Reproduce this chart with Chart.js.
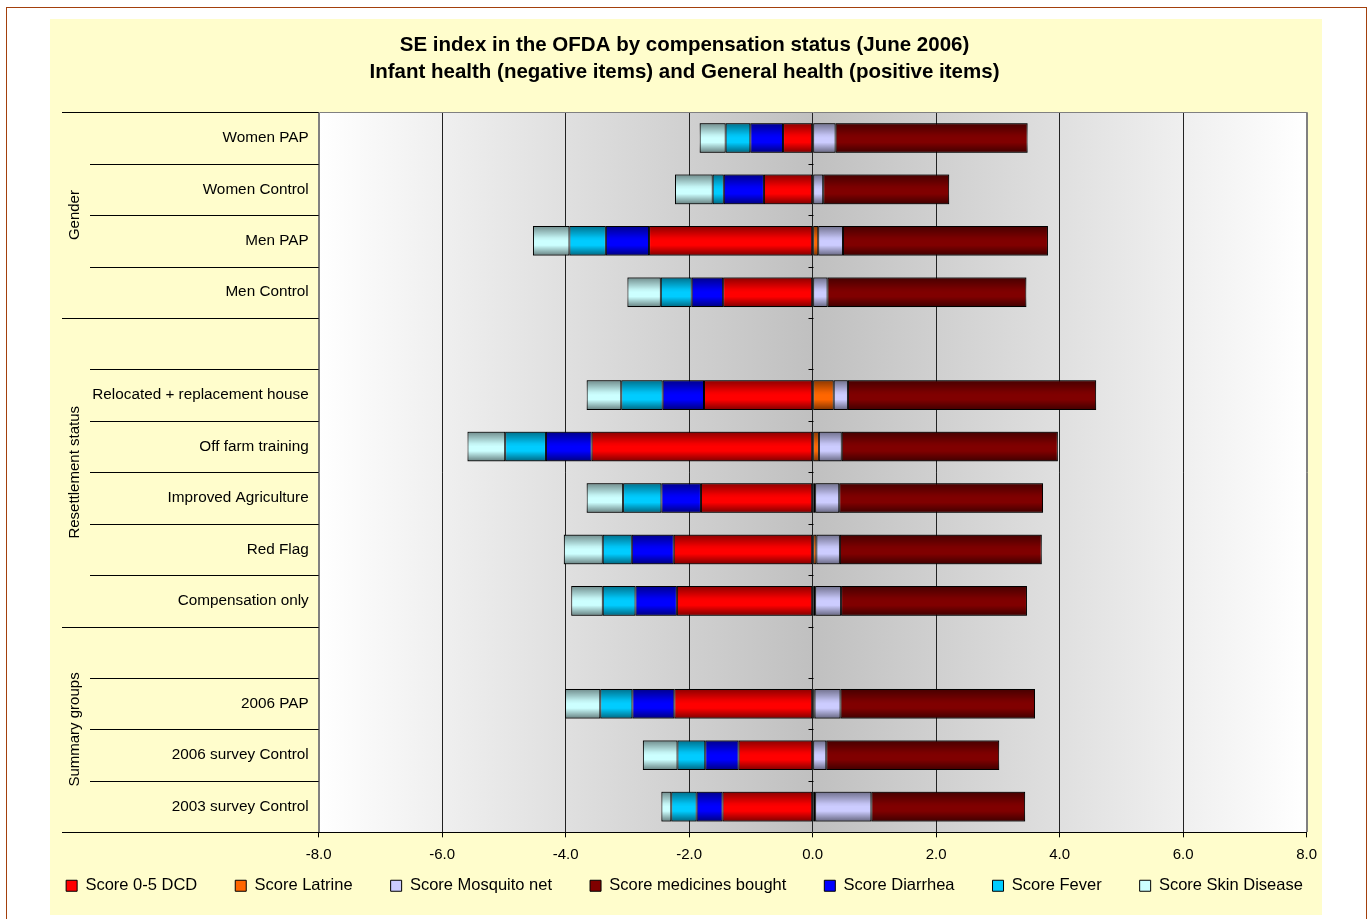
<!DOCTYPE html>
<html>
<head>
<meta charset="utf-8">
<title>SE index in the OFDA by compensation status</title>
<script src="https://cdn.jsdelivr.net/npm/chart.js@4.4.0/dist/chart.umd.min.js"></script>
<style>
  html, body { margin: 0; padding: 0; background: #fff; overflow: hidden; }
  #frame { position: absolute; left: 6px; top: 7px; width: 1361px; height: 940px;
           border: 1px solid #A3400C; box-sizing: border-box; }
  #panel { position: absolute; left: 50px; top: 19px; width: 1272px; height: 896px;
           background: #FFFDCC; }
  #wrap { position: absolute; left: 0; top: 0; width: 1369px; height: 919px; }
</style>
</head>
<body>
<div id="frame"></div>
<div id="panel"></div>
<div id="wrap"><canvas id="chart" width="1369" height="919"></canvas></div>
<script>
// categories, top to bottom ('' = empty spacer row)
const categories = [
  'Women PAP', 'Women Control', 'Men PAP', 'Men Control', '',
  'Relocated + replacement house', 'Off farm training', 'Improved Agriculture', 'Red Flag', 'Compensation only', '',
  '2006 PAP', '2006 survey Control', '2003 survey Control'
];
const groupNames = ['Gender', 'Resettlement status', 'Summary groups'];
const groupSizes = [4, 6, 4];

// series values
const scoreDCD       = [-0.48, -0.79, -2.65, -1.45, null, -1.76, -3.58, -1.81, -2.25, -2.20, null, -2.24, -1.20, -1.46];
const scoreLatrine   = [0, 0, 0.09, 0, null, 0.34, 0.10, 0.04, 0.06, 0.04, null, 0.03, 0, 0.04];
const scoreMosquito  = [0.37, 0.17, 0.40, 0.24, null, 0.23, 0.37, 0.39, 0.38, 0.42, null, 0.42, 0.22, 0.91];
const scoreMedicines = [3.11, 2.04, 3.32, 3.22, null, 4.02, 3.50, 3.30, 3.27, 3.01, null, 3.15, 2.80, 2.49];
const scoreDiarrhea  = [-0.53, -0.65, -0.70, -0.51, null, -0.67, -0.74, -0.64, -0.68, -0.67, null, -0.68, -0.54, -0.42];
const scoreFever     = [-0.40, -0.18, -0.59, -0.50, null, -0.67, -0.66, -0.62, -0.47, -0.53, null, -0.52, -0.45, -0.41];
const scoreSkin      = [-0.42, -0.61, -0.59, -0.54, null, -0.56, -0.61, -0.59, -0.63, -0.51, null, -0.57, -0.56, -0.16];

const xTicks = [-8, -6, -4, -2, 0, 2, 4, 6, 8];

const FONT = "'Liberation Sans', Arial, Helvetica, sans-serif";
Chart.defaults.font.family = FONT;
Chart.defaults.color = '#000';

// gray gradient behind the plot
const plotBackground = {
  id: 'plotBackground',
  beforeDraw(chart) {
    const {ctx, chartArea: a} = chart;
    const g = ctx.createLinearGradient(a.left, 0, a.right, 0);
    g.addColorStop(0, '#FFFFFF');
    g.addColorStop(0.5, '#C0C0C0');
    g.addColorStop(1, '#FFFFFF');
    ctx.save();
    ctx.fillStyle = g;
    ctx.fillRect(a.left, a.top, a.right - a.left, a.bottom - a.top);
    ctx.restore();
  }
};

// darker top / bottom edge on each bar, like the Excel fill
const barShade = {
  id: 'barShade',
  afterDatasetsDraw(chart) {
    const ctx = chart.ctx;
    chart.data.datasets.forEach((ds, i) => {
      chart.getDatasetMeta(i).data.forEach(bar => {
        const p = bar.getProps(['x', 'y', 'base', 'height'], true);
        if (!isFinite(p.x) || !isFinite(p.base) || Math.abs(p.x - p.base) < 1) return;
        const top = p.y - p.height / 2;
        const g = ctx.createLinearGradient(0, top, 0, top + p.height);
        g.addColorStop(0, 'rgba(0,0,0,0.45)');
        g.addColorStop(0.4, 'rgba(0,0,0,0.05)');
        g.addColorStop(0.5, 'rgba(0,0,0,0)');
        g.addColorStop(0.65, 'rgba(0,0,0,0)');
        g.addColorStop(1, 'rgba(0,0,0,0.5)');
        ctx.save();
        ctx.fillStyle = g;
        ctx.fillRect(Math.min(p.x, p.base), top, Math.abs(p.x - p.base), p.height);
        ctx.restore();
      });
    });
  }
};

// two-level category axis: separators, group names, frame
const sideAxis = {
  id: 'sideAxis',
  afterDraw(chart) {
    const {ctx, chartArea: a, scales: {x}} = chart;
    const n = categories.length;
    const pitch = (a.bottom - a.top) / n;
    const edges = [0];
    groupSizes.forEach(s => edges.push(edges[edges.length - 1] + s));
    const zx = Math.round(x.getPixelForValue(0)) + 0.5;

    ctx.save();
    ctx.lineWidth = 1;
    ctx.strokeStyle = '#000';
    for (let i = 0; i <= n; i++) {
      const yy = Math.round(a.top + i * pitch) + 0.5;
      ctx.beginPath();
      ctx.moveTo(edges.includes(i) ? 62 : 90, yy);
      ctx.lineTo(a.left, yy);
      if (i > 0 && i < n) {
        ctx.moveTo(zx - 5, yy);
        ctx.lineTo(zx, yy);
      }
      ctx.stroke();
    }

    ctx.fillStyle = '#000';
    ctx.font = '15px ' + FONT;
    ctx.textAlign = 'center';
    ctx.textBaseline = 'middle';
    groupNames.forEach((name, k) => {
      const yc = a.top + (edges[k] + edges[k + 1]) / 2 * pitch;
      ctx.save();
      ctx.translate(75, yc);
      ctx.rotate(-Math.PI / 2);
      ctx.fillText(name, 0, 0);
      ctx.restore();
    });

    ctx.strokeStyle = '#808080';
    ctx.beginPath();
    const l = Math.round(a.left) + 0.5, r = Math.round(a.right) + 0.5, t = Math.round(a.top) + 0.5;
    ctx.moveTo(l, Math.round(a.bottom));
    ctx.lineTo(l, t);
    ctx.lineTo(r, t);
    ctx.lineTo(r, Math.round(a.bottom));
    ctx.stroke();
    ctx.restore();
  }
};

function series(label, data, color) {
  return {
    label: label,
    data: data,
    backgroundColor: color,
    borderColor: '#000',
    borderWidth: 1,
    borderSkipped: false,
    barPercentage: 0.575,
    categoryPercentage: 1
  };
}

new Chart(document.getElementById('chart'), {
  type: 'bar',
  data: {
    labels: categories,
    datasets: [
      series('Score 0-5 DCD', scoreDCD, '#FF0000'),
      series('Score Latrine', scoreLatrine, '#FF6600'),
      series('Score Mosquito net', scoreMosquito, '#CCCCFF'),
      series('Score medicines bought', scoreMedicines, '#800000'),
      series('Score Diarrhea', scoreDiarrhea, '#0000FF'),
      series('Score Fever', scoreFever, '#00CCFF'),
      series('Score Skin Disease', scoreSkin, '#CCFFFF')
    ]
  },
  options: {
    indexAxis: 'y',
    responsive: false,
    animation: false,
    layout: { padding: { top: 0, left: 0, right: 0, bottom: 15 } },
    scales: {
      x: {
        type: 'linear',
        stacked: true,
        min: -8,
        max: 8,
        afterBuildTicks: s => { s.ticks = xTicks.map(v => ({ value: v })); },
        afterFit: s => { s.height = 7.15; },
        ticks: {
          font: { size: 15 },
          color: '#000',
          // mirrored so the labels are not clipped to the short axis box
          mirror: true,
          padding: -31.7,
          maxRotation: 0,
          callback: v => Number(v).toFixed(1)
        },
        grid: {
          color: c => (c.tick && Math.abs(c.tick.value) === 8) ? '#808080' : '#222',
          lineWidth: 1,
          drawTicks: true,
          tickLength: 5,
          tickColor: '#000'
        },
        border: { display: true, color: '#000', width: 1 }
      },
      y: {
        type: 'category',
        stacked: true,
        afterFit: s => { s.width = 318.7; },
        ticks: { font: { size: 15.3 }, color: '#000', padding: 10, autoSkip: false },
        grid: { display: false, drawTicks: false },
        border: { display: false }
      },
      yRight: {
        type: 'category',
        position: 'right',
        labels: categories,
        afterFit: s => { s.width = 62.3; },
        ticks: { display: false },
        grid: { display: false, drawTicks: false },
        border: { display: false }
      }
    },
    plugins: {
      title: {
        display: true,
        text: [
          'SE index in the OFDA by compensation status (June 2006)',
          'Infant health (negative items) and General health (positive items)'
        ],
        color: '#000',
        font: { size: 20.5, weight: 'bold', lineHeight: 1.33 },
        padding: { top: 31.7, bottom: 26 }
      },
      legend: {
        position: 'bottom',
        labels: {
          font: { size: 16.5 },
          color: '#000',
          boxWidth: 11,
          boxHeight: 11,
          padding: 38
        }
      },
      tooltip: { enabled: false }
    }
  },
  plugins: [plotBackground, barShade, sideAxis]
});
</script>
</body>
</html>
